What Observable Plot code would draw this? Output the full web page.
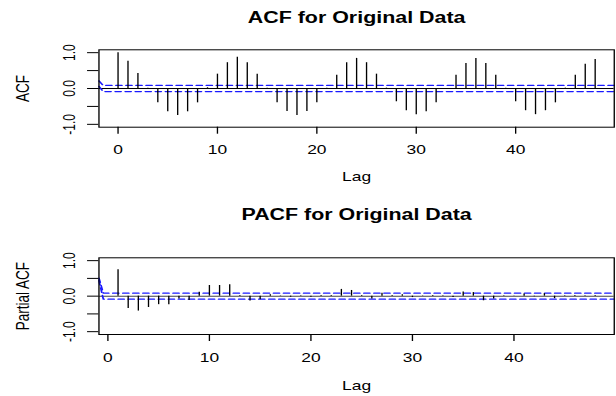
<!DOCTYPE html>
<html><head><meta charset="utf-8">
<script src="https://cdn.jsdelivr.net/npm/d3@7"></script>
<script src="https://cdn.jsdelivr.net/npm/@observablehq/plot@0.6"></script>
<style>
  body { margin: 0; background: #fff; }
  #chart svg { display: block; }
</style>
</head><body><div id="chart"></div>
<script>
// ---- data ----
const acfLags = [0,1,2,3,4,5,6,7,8,9,10,11,12,13,14,15,16,17,18,19,20,21,22,23,24,25,26,27,28,29,30,31,32,33,34,35,36,37,38,39,40,41,42,43,44,45,46,47,48];
const acfValues = [1.00,0.76,0.42,0.01,-0.40,-0.65,-0.75,-0.65,-0.40,0.02,0.40,0.72,0.87,0.72,0.40,0.01,-0.40,-0.64,-0.75,-0.64,-0.40,0.01,0.37,0.72,0.84,0.72,0.40,0.01,-0.37,-0.62,-0.73,-0.65,-0.40,-0.02,0.37,0.70,0.84,0.70,0.37,0.01,-0.37,-0.62,-0.73,-0.62,-0.40,0.01,0.37,0.68,0.81];
const pacfLags = [1,2,3,4,5,6,7,8,9,10,11,12,13,14,15,16,17,18,19,20,21,22,23,24,25,26,27,28,29,30,31,32,33,34,35,36,37,38,39,40,41,42,43,44,45,46,47,48];
const pacfValues = [0.74,-0.35,-0.42,-0.32,-0.24,-0.24,-0.08,-0.12,0.11,0.30,0.30,0.32,0.02,-0.14,-0.10,0.04,0.01,-0.03,0.01,-0.03,0.02,0.02,0.19,0.16,0.02,-0.08,0.08,0.02,0.04,-0.04,0.01,0.02,0.01,-0.04,0.12,0.10,-0.13,-0.08,0.01,-0.01,0.06,-0.02,0.07,-0.07,0.01,0.02,0.01,0.02];

// confidence-limit lines (as drawn, including the odd start at the left edge)
const acfCiLags = [-1.92, -1.5, 49.92];
const acfCiUpper = [0.21, 0.085, 0.085];
const acfCiLower = [0.06, -0.085, -0.085];
const pacfCiLags = [-0.88, -0.45, 49.88];
const pacfCiUpper = [0.51, 0.085, 0.085];
const pacfCiLower = [0.44, -0.085, -0.085];

const acfXDomain = [-1.92, 49.92];
const pacfXDomain = [-0.88, 49.88];
const yDomain = [-1.08, 1.08];

const xTickValues = [0, 10, 20, 30, 40];
const yTickValues = [-1, -0.5, 0, 0.5, 1];
const yTickLabels = ["-1.0", "", "0.0", "", "1.0"];

const titles = ["ACF for Original Data", "PACF for Original Data"];
const yLabels = ["ACF", "Partial ACF"];
const xLabel = "Lag";

// ---- drawing ----
const FONT = "'Liberation Sans', Arial, Helvetica, sans-serif";
const W = 460, H = 198, OUT_W = 616;

function ciData(lags, vals) { return lags.map((l, i) => ({lag: l, v: vals[i]})); }

function panel({lags, values, xDomain, ciLags, ciUpper, ciLower, title, yLabel, marginTop, marginBottom, titleDy, labelDy, zeroStroke}) {
  const svg = Plot.plot({
    width: W, height: H,
    marginLeft: 73.4, marginRight: 1.8, marginTop, marginBottom,
    x: {domain: xDomain},
    y: {domain: yDomain},
    style: {fontFamily: FONT, fontSize: "13px", background: "#fff", color: "#000"},
    marks: [
      Plot.ruleY([0], {stroke: zeroStroke, strokeWidth: 1}),
      Plot.line(ciData(ciLags, ciUpper), {x: "lag", y: "v", stroke: "#1a1aff", strokeWidth: 1.3, strokeDasharray: "4.5,3"}),
      Plot.line(ciData(ciLags, ciLower), {x: "lag", y: "v", stroke: "#1a1aff", strokeWidth: 1.3, strokeDasharray: "4.5,3"}),
      Plot.ruleX(values, {x: lags, y1: 0, y2: values, stroke: "#000", strokeWidth: 1}),
      Plot.frame({stroke: "#000"}),
      Plot.axisX({ticks: xTickValues, tickSize: 7, tickPadding: 11, label: null, fontSize: 13, tickFormat: d => String(d)}),
      Plot.axisY({ticks: yTickValues, tickSize: 8.4, tickPadding: 9.6, tickRotate: -90, label: null, fontSize: 12,
                  tickFormat: d => yTickLabels[yTickValues.indexOf(d)]}),
      Plot.text([title], {frameAnchor: "top", dy: titleDy, lineAnchor: "middle", textAnchor: "middle", fontWeight: "bold", fontSize: 16}),
      Plot.text([xLabel], {frameAnchor: "bottom", dy: labelDy, lineAnchor: "middle", textAnchor: "middle", fontSize: 13}),
      Plot.text([yLabel], {frameAnchor: "left", dx: -56.2, rotate: -90, lineAnchor: "middle", textAnchor: "middle", fontSize: 13.5})
    ]
  });
  // the reference is horizontally stretched: show the W-wide drawing at 616 px
  svg.setAttribute("width", OUT_W);
  svg.setAttribute("height", H);
  svg.setAttribute("viewBox", `0 0 ${W} ${H}`);
  svg.setAttribute("preserveAspectRatio", "none");
  svg.style.width = OUT_W + "px";
  svg.style.height = H + "px";
  svg.style.maxWidth = "none";
  return svg;
}

const root = document.getElementById("chart");
root.append(panel({
  lags: acfLags, values: acfValues, xDomain: acfXDomain,
  ciLags: acfCiLags, ciUpper: acfCiUpper, ciLower: acfCiLower,
  title: titles[0], yLabel: yLabels[0],
  marginTop: 49.3, marginBottom: 71.3, titleDy: -31.6, labelDy: 50, zeroStroke: "#000"
}));
root.append(panel({
  lags: pacfLags, values: pacfValues, xDomain: pacfXDomain,
  ciLags: pacfCiLags, ciUpper: pacfCiUpper, ciLower: pacfCiLower,
  title: titles[1], yLabel: yLabels[1],
  marginTop: 59.3, marginBottom: 62, titleDy: -43.1, labelDy: 51, zeroStroke: "#444"
}));
</script>
</body></html>
